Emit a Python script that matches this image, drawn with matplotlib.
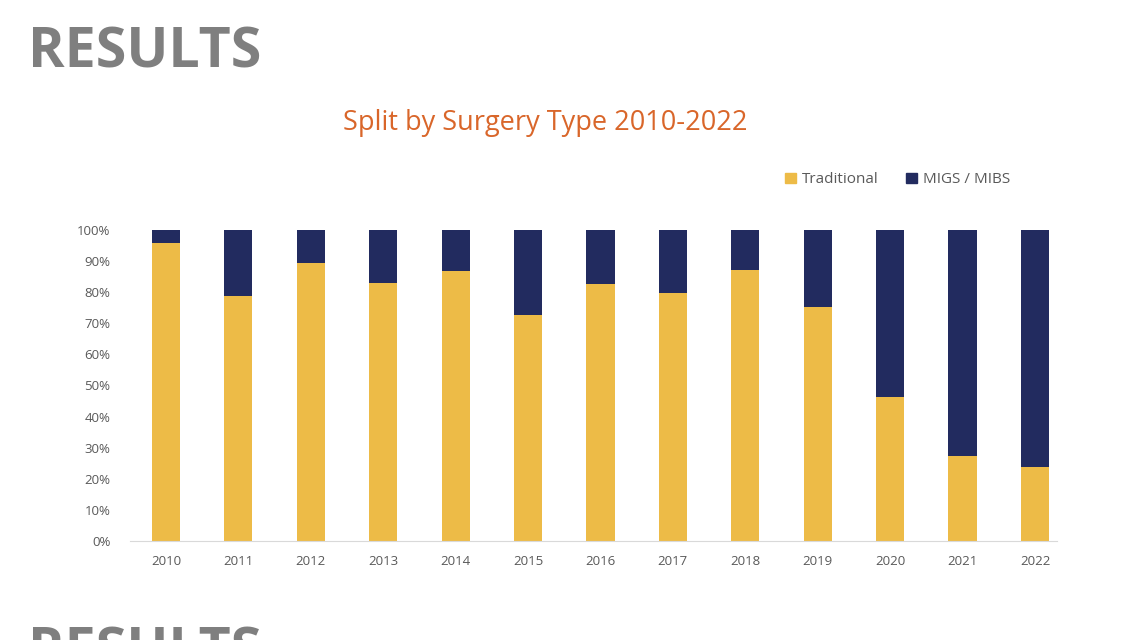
import numpy as np
import matplotlib
matplotlib.use("Agg")
from matplotlib import pyplot as plt
from matplotlib.patches import Patch

years = ['2010', '2011', '2012', '2013', '2014', '2015', '2016',
         '2017', '2018', '2019', '2020', '2021', '2022']
traditional = [95.8, 78.8, 89.4, 83.0, 86.8, 72.7, 82.6, 79.7, 87.1, 75.2, 46.4, 27.3, 23.8]
migs = [100 - t for t in traditional]

yellow = '#EDBB47'
navy = '#222B5F'
grey_txt = '#595959'

plt.rcParams['font.family'] = ['Open Sans', 'DejaVu Sans']

fig = plt.figure(figsize=(11.38, 6.4), dpi=100)
ax = fig.add_axes([0.114, 0.1547, 0.8146, 0.486])

x = np.arange(len(years))
ax.bar(x, traditional, width=0.39, color=yellow, label='Traditional')
ax.bar(x, migs, width=0.39, bottom=traditional, color=navy, label='MIGS / MIBS')

ax.set_xlim(-0.5, len(years) - 0.7)
ax.set_ylim(0, 100)
ax.set_yticks(range(0, 101, 10))
ax.set_yticklabels([f"{v}%" for v in range(0, 101, 10)])
ax.set_xticks(x)
ax.set_xticklabels(years)
ax.tick_params(axis='both', length=0, labelsize=9.5, colors=grey_txt)
ax.tick_params(axis='x', pad=10)
ax.tick_params(axis='y', pad=14)
for s in ['top', 'right', 'left']:
    ax.spines[s].set_visible(False)
ax.spines['bottom'].set_color('#D9D9D9')

fig.text(0.479, 0.808, 'Split by Surgery Type 2010-2022', ha='center', va='center',
         fontsize=19.5, color='#D9662A')

handles = [Patch(color=yellow, label='Traditional'), Patch(color=navy, label='MIGS / MIBS')]
fig.legend(handles=handles, loc='center', bbox_to_anchor=(0.789, 0.719), ncol=2, frameon=False,
           fontsize=11, handlelength=0.7, handleheight=0.7, handletextpad=0.4, columnspacing=1.8,
           labelcolor=grey_txt)

fig.text(0.025, 0.917, 'RESULTS', ha='left', va='center', fontsize=40,
         fontweight='bold', color='#7F7F7F')
fig.text(0.025, -0.02, 'RESULTS', ha='left', va='center', fontsize=40,
         fontweight='bold', color='#7F7F7F')

fig.savefig('out.png', dpi=100)
